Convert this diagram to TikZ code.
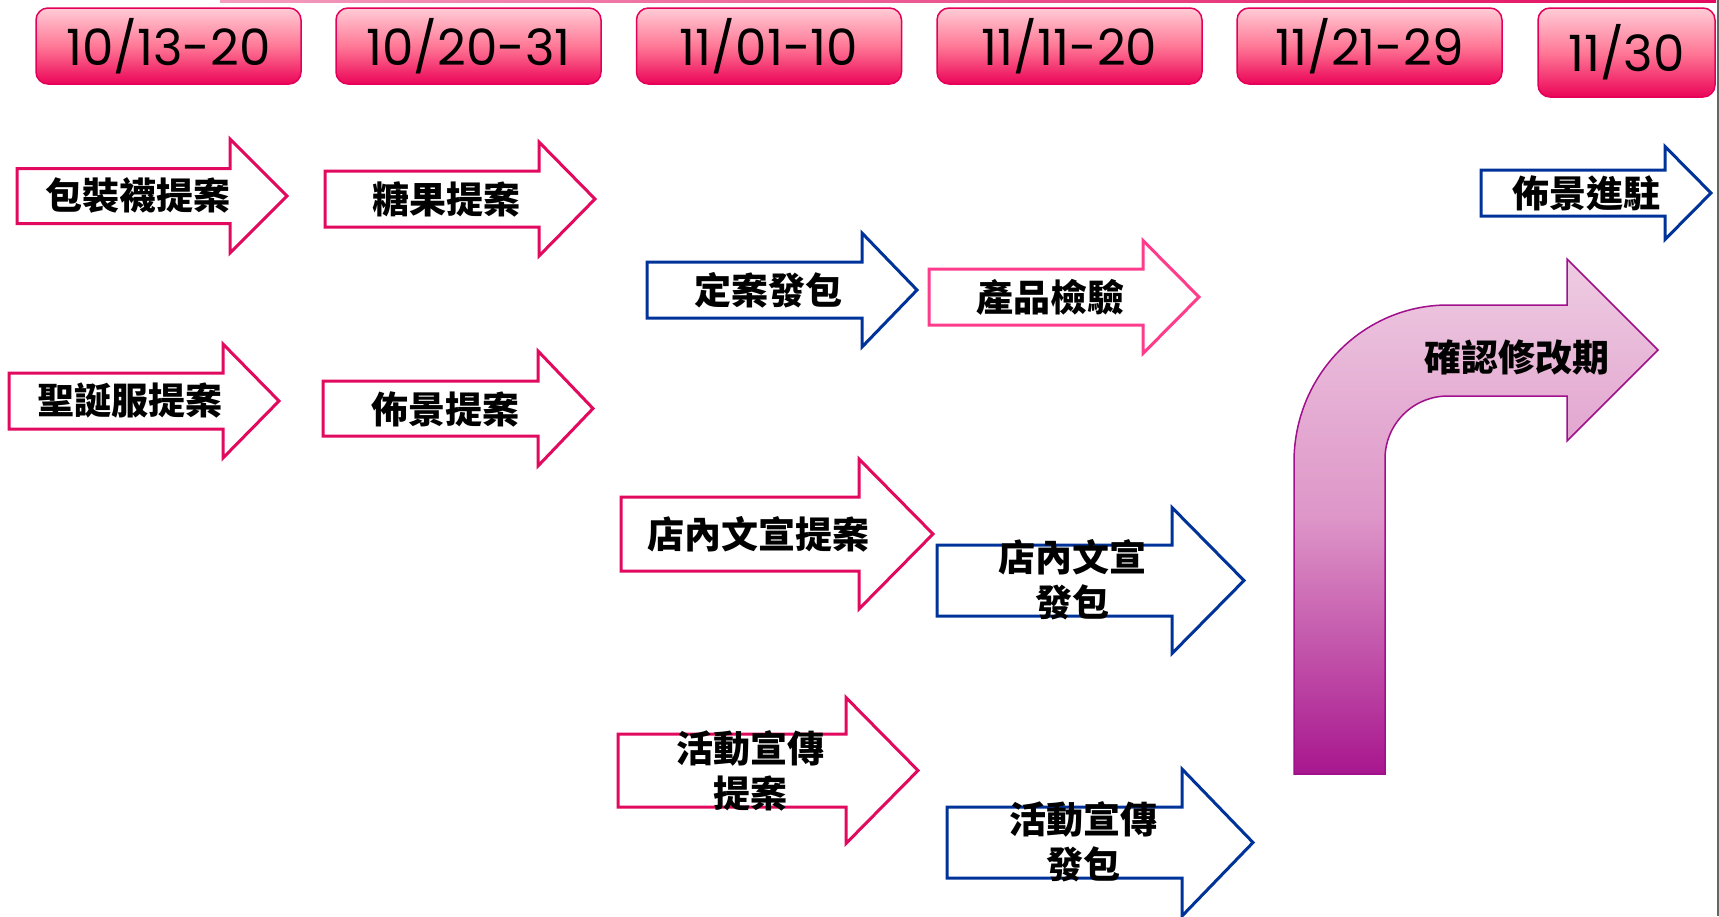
\documentclass[tikz,border=0pt]{standalone}
\usepackage{fontspec}
\setmainfont{Poppins}
\newfontfamily\cjk{Noto Sans CJK TC}
\definecolor{pinkln}{RGB}{226,10,94}
\definecolor{blueln}{RGB}{0,51,153}
\definecolor{ltpink}{RGB}{255,60,140}
\definecolor{hdtop}{RGB}{255,204,214}
\definecolor{hdmid}{RGB}{255,120,150}
\definecolor{hdbot}{RGB}{235,5,88}
\definecolor{hdline}{RGB}{228,0,90}
\definecolor{bntop}{RGB}{238,204,226}
\definecolor{bnmid}{RGB}{222,150,200}
\definecolor{bnbot}{RGB}{168,22,142}
\definecolor{bnline}{RGB}{160,16,140}
\newcommand\blockarr[7]{%
  \draw[#1] (#2,#5-#6) -- (#3,#5-#6) -- (#3,#5-#7) -- (#4,#5) -- (#3,#5+#7) -- (#3,#5+#6) -- (#2,#5+#6) -- cycle;}
\begin{document}
\begin{tikzpicture}[x=1pt,y=-1pt,
  hdr/.style={draw=hdline, line width=1.5pt, rounded corners=12pt,
    top color=hdtop, bottom color=hdbot, middle color=hdmid,
    minimum height=76pt, minimum width=265pt, inner sep=0pt,
    font=\fontsize{50}{52}\selectfont},
  pinkarr/.style={draw=pinkln, line width=3pt, fill=white},
  bluearr/.style={draw=blueln, line width=3pt, fill=white},
  ltarr/.style={draw=ltpink, line width=3pt, fill=white},
  lbl/.style={font=\cjk\bfseries\fontsize{37}{45}\selectfont, align=center, inner sep=0pt}]
\useasboundingbox (0,0) rectangle (1719,916);
\clip (0,0) rectangle (1719,916);
\fill[white] (0,0) rectangle (1719,916);
% top line and right border
\shade[left color=pinkln!40, right color=pinkln] (220,0) rectangle (1716,2.5);
\draw[black!60, line width=1.5pt] (1718.2,0) -- (1718.2,916);
% headers
\node[hdr] (h1) at (168.5,46) {10/13-20};
\node[hdr] (h2) at (468.5,46) {10/20-31};
\node[hdr] (h3) at (769,46) {11/01-10};
\node[hdr] (h4) at (1069.5,46) {11/11-20};
\node[hdr] (h5) at (1369.5,46) {11/21-29};
\node[hdr, minimum width=177pt, minimum height=89pt] (h6) at (1626.5,52.5) {11/30};
% block arrows
\blockarr{pinkarr}{17}{230}{287}{196}{27.5}{57}
\blockarr{pinkarr}{325}{539}{595}{199}{28}{57}
\blockarr{pinkarr}{9}{223}{279}{401}{28}{57}
\blockarr{pinkarr}{323}{538}{593}{408.5}{27.5}{57.5}
\blockarr{bluearr}{647}{862}{917}{290}{28}{57}
\blockarr{ltarr}{929}{1143}{1199}{297}{28}{56.5}
\blockarr{pinkarr}{621}{859}{933}{534}{37}{75}
\blockarr{bluearr}{937}{1172}{1244}{580.5}{35.5}{73}
\blockarr{pinkarr}{618}{846}{918}{770.5}{36.5}{73}
\blockarr{bluearr}{947}{1182}{1253}{842.5}{35.5}{73.5}
\blockarr{bluearr}{1481}{1665}{1711}{193}{23}{46.5}
% bent arrow
\shade[draw=bnline, line width=1.5pt, top color=bntop, bottom color=bnbot, middle color=bnmid]
  (1294,774) -- (1294,462) .. controls (1294,375) and (1363,305) .. (1448,305)
  -- (1567,305) -- (1567,259) -- (1658,350) -- (1567,441) -- (1567,396) -- (1448,396)
  .. controls (1413,396) and (1385,424) .. (1385,459) -- (1385,774) -- cycle;
% labels
\node[lbl] (t1) at (138,195.5) {包裝襪提案};
\node[lbl] (t2) at (446,199) {糖果提案};
\node[lbl] (t3) at (130,401) {聖誕服提案};
\node[lbl] (t4) at (445,409) {佈景提案};
\node[lbl] (t5) at (768,290.5) {定案發包};
\node[lbl] (t6) at (1050,297) {產品檢驗};
\node[lbl] (t7) at (758,534) {店內文宣提案};
\node[lbl] (t8) at (1072,580) {店內文宣\\發包};
\node[lbl] (t9) at (750,770.5) {活動宣傳\\提案};
\node[lbl] (t10) at (1083,842) {活動宣傳\\發包};
\node[lbl] (t11) at (1586,193) {佈景進駐};
\node[lbl] (t12) at (1517,357.5) {確認修改期};
\end{tikzpicture}
\end{document}
